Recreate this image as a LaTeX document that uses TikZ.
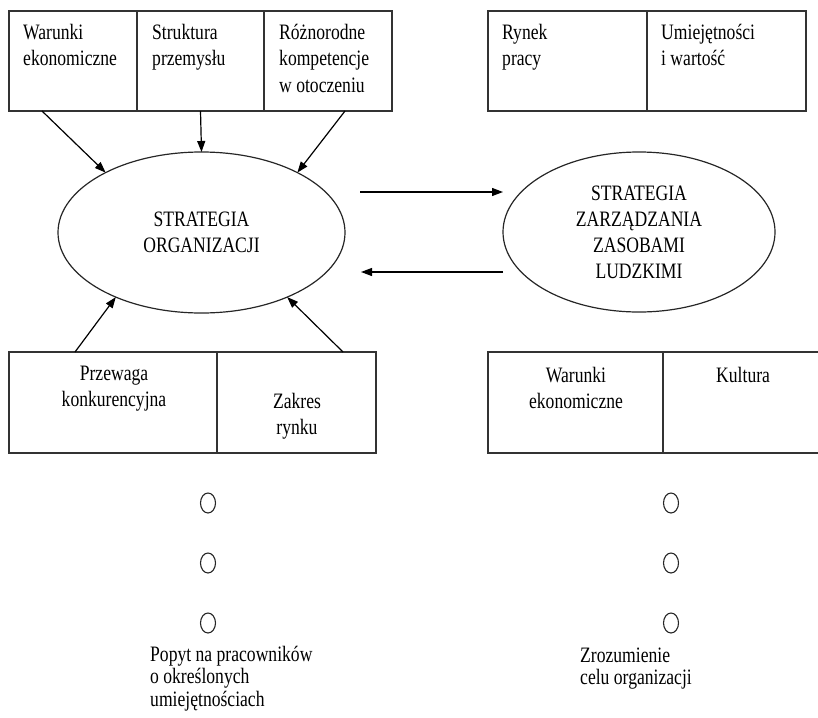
\documentclass[tikz,border=0pt]{standalone}
\usepackage{fontspec}
\setmainfont{Liberation Serif}[FakeStretch=0.8]
\usetikzlibrary{shapes.geometric,arrows.meta,calc}
\begin{document}
\begin{tikzpicture}[x=1pt,y=-1pt,
  box/.style={draw=black!80,line width=1.3pt,anchor=north west,inner sep=0pt,outer sep=0pt,minimum height=100pt},
  txt/.style={font=\fontsize{22}{26}\selectfont,inner sep=0pt},
  lbl/.style={font=\fontsize{22}{22.5}\selectfont,inner sep=0pt,align=left,anchor=base west},
  oval/.style={draw=black!85,line width=1.2pt,ellipse,inner sep=0pt,outer sep=0pt,align=center,font=\fontsize{22}{26}\selectfont},
  arr/.style={line width=1.2pt,-{Triangle[length=11pt,width=8pt]}},
  dot/.style={draw=black!85,line width=1.1pt,ellipse,minimum width=15pt,minimum height=20pt,inner sep=0pt}]
\useasboundingbox (0,0) rectangle (818,717);
% top-left boxes
\node[box,minimum width=128pt] (tl1) at (9,11) {};
\node[box,minimum width=127pt] (tl2) at (137,11) {};
\node[box,minimum width=128pt] (tl3) at (264,11) {};
\node[txt,anchor=base west,align=left] (t1) at (23,66) {Warunki\\ekonomiczne};
\node[txt,anchor=base west,align=left] (t2) at (152,66) {Struktura\\przemysłu};
\node[txt,anchor=base west,align=left] (t3) at (279,92) {Różnorodne\\kompetencje\\w otoczeniu};
% top-right boxes
\node[box,minimum width=159pt] (tr1) at (488,11) {};
\node[box,minimum width=159pt] (tr2) at (647,11) {};
\node[txt,anchor=base west,align=left] (t4) at (502,66) {Rynek\\pracy};
\node[txt,anchor=base west,align=left] (t5) at (661,66) {Umiejętności\\i wartość};
% ellipses
\node[oval,minimum width=287pt,minimum height=161pt] (org) at (201.5,232.5) {STRATEGIA\\ORGANIZACJI};
\node[oval,minimum width=272pt,minimum height=160pt] (hrm) at (639,232) {STRATEGIA\\ZARZĄDZANIA\\ZASOBAMI\\LUDZKIMI};
% bottom-left boxes
\node[box,minimum width=208pt,minimum height=101pt] (bl1) at (9,352) {};
\node[box,minimum width=159pt,minimum height=101pt] (bl2) at (217,352) {};
\node[txt,anchor=base,align=center] (t6) at (114,406) {Przewaga\\konkurencyjna};
\node[txt,anchor=base,align=center] (t7) at (297,434) {Zakres\\rynku};
% bottom-right boxes
\node[box,minimum width=175pt,minimum height=101pt] (br1) at (488,352) {};
\draw[draw=black!80,line width=1.3pt] (br1.north east) -- (818,352);
\draw[draw=black!80,line width=1.3pt] (br1.south east) -- (818,453);
\node[txt,anchor=base,align=center] (t8) at (576,408) {Warunki\\ekonomiczne};
\node[txt,anchor=base west] (t9) at (716,382) {Kultura};
% connectors to org
\draw[arr] ($(tl1.south west)+(33,0)$) -- (org.148);
\draw[arr] (tl2.south) -- (org.north);
\draw[arr] ($(tl3.south west)+(81,0)$) -- (org.32);
\draw[arr] ($(bl1.north west)+(66,0)$) -- (org.217);
\draw[arr] ($(bl2.north east)+(-33,0)$) -- (org.323);
% horizontal arrows
\coordinate (h1) at (360,192);
\coordinate (h2) at (361,272);
\draw[arr] (h1) -- (h1 -| hrm.west);
\draw[arr] (h2 -| hrm.west) -- (h2);
% small circles
\node[dot] (c1) at (208,503) {};
\node[dot] (c2) at (208,563) {};
\node[dot] (c3) at (208,623) {};
\node[dot] (c4) at (671,503) {};
\node[dot] (c5) at (671,563) {};
\node[dot] (c6) at (671,623) {};
% bottom labels
\node[lbl] (l1) at (150,706) {Popyt na pracowników\\o określonych\\umiejętnościach};
\node[lbl] (l2) at (580,684.5) {Zrozumienie\\celu organizacji};
\end{tikzpicture}
\end{document}
